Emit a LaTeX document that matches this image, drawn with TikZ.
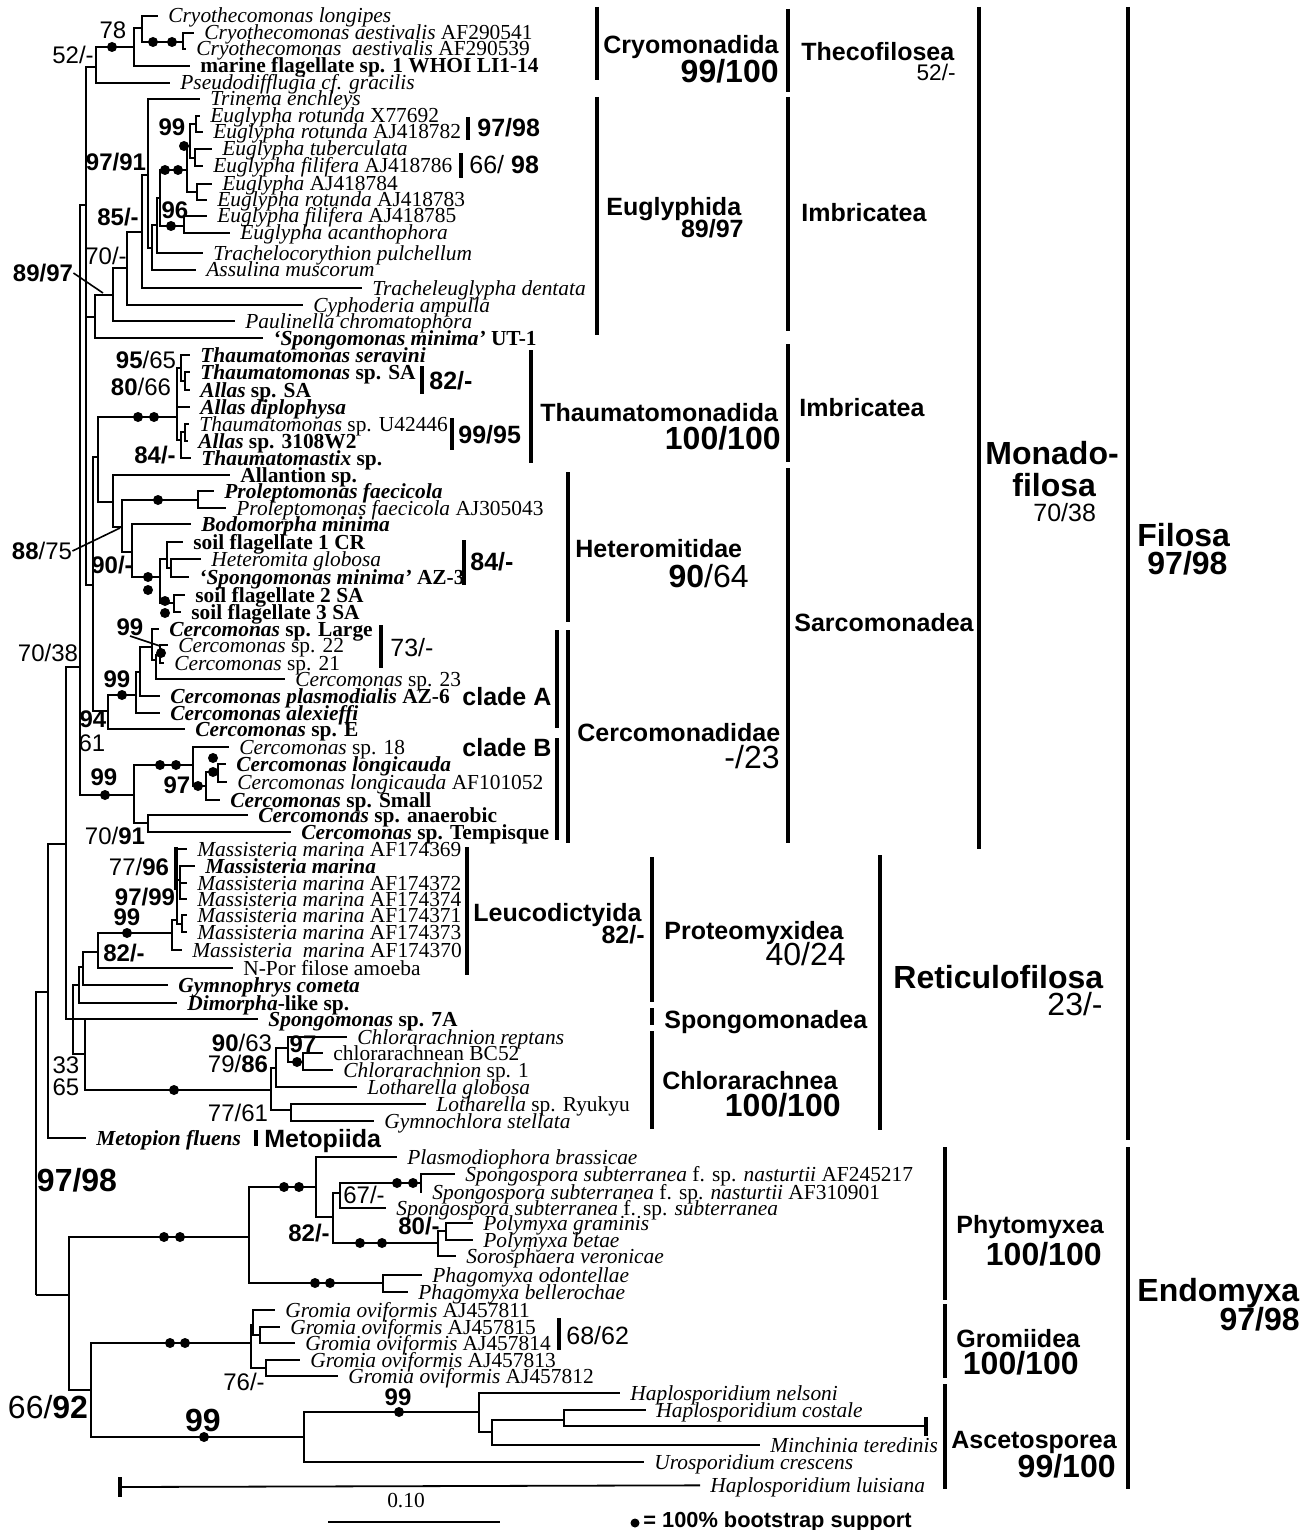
\documentclass[tikz,border=0pt]{standalone}
\usepackage{fontspec}
\setmainfont{Liberation Serif}
\setsansfont{Liberation Sans}
\newcommand\Tx[4]{\node[tx] (#1) at (#2,#3) {#4};}
\newcommand\Ed[2]{\draw[br] (#1) |- (#2);}
\newcommand\Nd[3]{\coordinate (#1) at (#2,#3);}
\newcommand\Dt[3]{\node[dot] (#1) at (#2,#3) {};}
\begin{document}
\begin{tikzpicture}[x=0.5pt,y=-0.5pt,
  br/.style={line width=0.9pt},
  gbar/.style={line width=1.8pt},
  tx/.style={anchor=west,inner xsep=5pt,inner ysep=0pt,text height=7pt,text depth=0pt,font=\fontsize{10.7}{12}\selectfont},
  dot/.style={circle,fill=black,inner sep=0pt,minimum size=5pt},
  sv/.style={inner sep=0pt,text height=8.6pt,text depth=0pt,font=\sffamily\fontsize{12}{12}\selectfont},
  svbig/.style={inner sep=0pt,text height=11.5pt,text depth=0pt,font=\sffamily\fontsize{16}{16}\selectfont},
  svbigb/.style={inner sep=0pt,text height=11.5pt,text depth=0pt,font=\sffamily\bfseries\fontsize{16}{16}\selectfont},
  gname/.style={anchor=west,inner sep=0pt,text height=9pt,text depth=0pt,font=\sffamily\bfseries\fontsize{12.5}{13}\selectfont},
  gsup/.style={inner sep=0pt,text height=9pt,text depth=0pt,font=\sffamily\fontsize{12.5}{13}\selectfont},
  gsupb/.style={inner sep=0pt,text height=9pt,text depth=0pt,font=\sffamily\bfseries\fontsize{12.5}{13}\selectfont},
  gbig/.style={anchor=west,inner sep=0pt,text height=11.5pt,text depth=0pt,font=\sffamily\bfseries\fontsize{16}{16}\selectfont},
]
\fill[white] (0,0) rectangle (1316,1530);
\useasboundingbox (0,0) rectangle (1316,1530);

% ---------- internal nodes ----------
\Nd{root}{36}{1295}
\Nd{F}{48}{992}
\Nd{N7038}{66}{844}
\Nd{M}{80}{667}
\Nd{A}{86}{205}
\Nd{C4}{96}{67}
\Nd{C3}{134}{47}
\Nd{C1}{142}{28}
\Nd{C2}{183}{42}
\Nd{N8997}{95}{317}
\Nd{N98}{113}{295}
\Nd{N70}{127}{268}
\Nd{N85}{142}{232}
\Nd{N9791}{148}{175}
\Nd{E3}{152}{248}
\Nd{E2}{157}{225}
\Nd{E1}{160}{198}
\Nd{EG}{187}{170}
\Nd{E99}{190}{146}
\Nd{Erot}{196}{124}
\Nd{Etub}{195}{158}
\Nd{Ep2}{197}{192}
\Nd{E96}{184}{226}
\Nd{N93}{93}{585}
\Nd{TH}{98}{457}
\Nd{T0}{177}{417}
\Nd{T1}{181}{368}
\Nd{T2}{185}{381}
\Nd{T3}{181}{440}
\Nd{T4}{185}{432}
\Nd{H0}{113}{502}
\Nd{H1}{122}{527}
\Nd{HP}{198}{500}
\Nd{H2}{132}{552}
\Nd{H3}{160}{577}
\Nd{H4}{167}{559}
\Nd{H4b}{171}{568}
\Nd{HS}{174}{603}
\Nd{CA0}{108}{711}
\Nd{CA1}{136}{695}
\Nd{CA1b}{140}{672}
\Nd{CA2}{152}{647}
\Nd{CA3}{156}{660}
\Nd{CAp}{160}{655}
\Nd{CB0}{134}{795}
\Nd{CB1}{193}{765}
\Nd{CB3}{206}{786}
\Nd{CBp}{218}{772}
\Nd{CB2}{148}{823}
\Nd{N33}{73}{1019}
\Nd{ND}{79}{985}
\Nd{NG}{83}{967}
\Nd{NL}{98}{952}
\Nd{MS0}{172}{933}
\Nd{MS1}{177}{920}
\Nd{MS2}{180}{880}
\Nd{MS3}{182}{924}
\Nd{NSC}{85}{1054}
\Nd{CH0}{271}{1090}
\Nd{CHa}{276}{1068}
\Nd{CH1}{288}{1048}
\Nd{CH1b}{303}{1062}
\Nd{CH2}{291}{1110}
\Nd{Endo}{69}{1295}
\Nd{P0}{249}{1237}
\Nd{P1}{316}{1187}
\Nd{P2}{333}{1217}
\Nd{P3}{340}{1193}
\Nd{Psp}{421}{1183}
\Nd{P4}{438}{1243}
\Nd{P5}{446}{1231}
\Nd{Ph}{383}{1283}
\Nd{G}{91}{1390}
\Nd{G0}{251}{1343}
\Nd{G1}{253}{1325}
\Nd{G1b}{260}{1335}
\Nd{G2}{266}{1368}
\Nd{A0}{304}{1437}
\Nd{A1}{479}{1412}
\Nd{A2}{492}{1432}
\Nd{A3}{564}{1420}
\Nd{brk}{926}{1426}
\Nd{lbs}{120}{1487}

% ---------- taxa ----------
\Tx{c1}{158}{16}{\textit{Cryothecomonas longipes}}
\Tx{c2}{194}{33}{\textit{Cryothecomonas aestivalis} AF290541}
\Tx{c3}{186}{49}{\textit{Cryothecomonas\ \ aestivalis} AF290539}
\Tx{c4}{190}{66}{\textbf{marine flagellate sp. 1 WHOI LI1-14}}
\Tx{c5}{170}{83}{\textit{Pseudodifflugia cf. gracilis}}
\Tx{e1}{200}{99}{\textit{Trinema enchleys}}
\Tx{e2}{200}{116}{\textit{Euglypha rotunda} X77692}
\Tx{e3}{203}{132}{\textit{Euglypha rotunda} AJ418782}
\Tx{e4}{212}{149}{\textit{Euglypha tuberculata}}
\Tx{e5}{203}{166}{\textit{Euglypha filifera} AJ418786}
\Tx{e6}{212}{184}{\textit{Euglypha} AJ418784}
\Tx{e7}{207}{200}{\textit{Euglypha rotunda} AJ418783}
\Tx{e8}{207}{216}{\textit{Euglypha filifera} AJ418785}
\Tx{e9}{230}{233}{\textit{Euglypha acanthophora}}
\Tx{e10}{203}{253}{\textit{Trachelocorythion pulchellum}}
\Tx{e11}{196}{270}{\textit{Assulina muscorum}}
\Tx{e12}{362}{288}{\textit{Tracheleuglypha dentata}}
\Tx{e13}{303}{305}{\textit{Cyphoderia ampulla}}
\Tx{e14}{235}{321}{\textit{Paulinella chromatophora}}
\Tx{e15}{263}{338}{\textbf{\textit{‘Spongomonas minima’} UT-1}}
\Tx{th1}{190}{355}{\textbf{\textit{Thaumatomonas seravini}}}
\Tx{th2}{190}{372}{\textbf{\textit{Thaumatomonas} sp. SA}}
\Tx{th3}{190}{390}{\textbf{\textit{Allas} sp. SA}}
\Tx{th4}{190}{407}{\textbf{\textit{Allas diplophysa}}}
\Tx{th5}{189}{424}{\textit{Thaumatomonas} sp. U42446}
\Tx{th6}{188}{441}{\textbf{\textit{Allas} sp. 3108W2}}
\Tx{th7}{191}{458}{\textbf{\textit{Thaumatomastix} sp.}}
\Tx{h1}{230}{475}{\textbf{Allantion sp.}}
\Tx{h2}{214}{491}{\textbf{\textit{Proleptomonas faecicola}}}
\Tx{h3}{226}{508}{\textit{Proleptomonas faecicola} AJ305043}
\Tx{h4}{191}{524}{\textbf{\textit{Bodomorpha minima}}}
\Tx{h5}{183}{542}{\textbf{soil flagellate 1 CR}}
\Tx{h6}{201}{559}{\textit{Heteromita globosa}}
\Tx{h7}{189}{577}{\textbf{\textit{‘Spongomonas minima’} AZ-3}}
\Tx{h8}{185}{595}{\textbf{soil flagellate 2 SA}}
\Tx{h9}{181}{612}{\textbf{soil flagellate 3 SA}}
\Tx{k1}{159}{629}{\textbf{\textit{Cercomonas} sp. Large}}
\Tx{k2}{168}{645}{\textit{Cercomonas} sp. 22}
\Tx{k3}{164}{663}{\textit{Cercomonas} sp. 21}
\Tx{k4}{285}{679}{\textit{Cercomonas} sp. 23}
\Tx{k5}{160}{696}{\textbf{\textit{Cercomonas plasmodialis} AZ-6}}
\Tx{k6}{160}{713}{\textbf{\textit{Cercomonas alexieffi}}}
\Tx{k7}{185}{729}{\textbf{\textit{Cercomonas} sp. E}}
\Tx{k8}{229}{747}{\textit{Cercomonas} sp. 18}
\Tx{k9}{226}{764}{\textbf{\textit{Cercomonas longicauda}}}
\Tx{k10}{227}{782}{\textit{Cercomonas longicauda} AF101052}
\Tx{k11}{220}{800}{\textbf{\textit{Cercomonas} sp. Small}}
\Tx{k12}{248}{815}{\textbf{\textit{Cercomonas} sp. anaerobic}}
\Tx{k13}{291}{832}{\textbf{\textit{Cercomonas} sp. Tempisque}}
\Tx{m1}{187}{849}{\textit{Massisteria marina} AF174369}
\Tx{m2}{195}{866}{\textbf{\textit{Massisteria marina}}}
\Tx{m3}{187}{883}{\textit{Massisteria marina} AF174372}
\Tx{m4}{187}{899}{\textit{Massisteria marina} AF174374}
\Tx{m5}{187}{915}{\textit{Massisteria marina} AF174371}
\Tx{m6}{187}{932}{\textit{Massisteria marina} AF174373}
\Tx{m7}{182}{950}{\textit{Massisteria\ \ marina} AF174370}
\Tx{m8}{233}{968}{N-Por filose amoeba}
\Tx{m9}{168}{985}{\textbf{\textit{Gymnophrys cometa}}}
\Tx{m10}{177}{1003}{\textbf{\textit{Dimorpha}-like sp.}}
\Tx{m11}{258}{1019}{\textbf{\textit{Spongomonas} sp. 7A}}
\Tx{m12}{347}{1037}{\textit{Chlorarachnion reptans}}
\Tx{m13}{323}{1053}{chlorarachnean BC52}
\Tx{m14}{333}{1070}{\textit{Chlorarachnion} sp. 1}
\Tx{m15}{357}{1087}{\textit{Lotharella globosa}}
\Tx{m16}{426}{1104}{\textit{Lotharella} sp. Ryukyu}
\Tx{m17}{374}{1121}{\textit{Gymnochlora stellata}}
\Tx{m18}{86}{1138}{\textbf{\textit{Metopion fluens}}}
\Tx{p1}{397}{1157}{\textit{Plasmodiophora brassicae}}
\Tx{p2}{455}{1174}{\textit{Spongospora subterranea} f. sp. \textit{nasturtii} AF245217}
\Tx{p3}{422}{1192}{\textit{Spongospora subterranea} f. sp. \textit{nasturtii} AF310901}
\Tx{p4}{386}{1208}{\textit{Spongospora subterranea} f. sp. \textit{subterranea}}
\Tx{p5}{473}{1223}{\textit{Polymyxa graminis}}
\Tx{p6}{473}{1240}{\textit{Polymyxa betae}}
\Tx{p7}{456}{1256}{\textit{Sorosphaera veronicae}}
\Tx{p8}{422}{1275}{\textit{Phagomyxa odontellae}}
\Tx{p9}{408}{1292}{\textit{Phagomyxa bellerochae}}
\Tx{g1}{275}{1310}{\textit{Gromia oviformis} AJ457811}
\Tx{g2}{280}{1327}{\textit{Gromia oviformis} AJ457815}
\Tx{g3}{295}{1343}{\textit{Gromia oviformis} AJ457814}
\Tx{g4}{300}{1360}{\textit{Gromia oviformis} AJ457813}
\Tx{g5}{338}{1376}{\textit{Gromia oviformis} AJ457812}
\Tx{a1}{620}{1393}{\textit{Haplosporidium nelsoni}}
\Tx{a2}{646}{1410}{\textit{Haplosporidium costale}}
\Tx{a3}{760}{1445}{\textit{Minchinia teredinis}}
\Tx{a4}{644}{1462}{\textit{Urosporidium crescens}}
\Tx{a5}{700}{1485}{\textit{Haplosporidium luisiana}}

% ---------- edges ----------
\Ed{root}{F}\Ed{root}{Endo}
\Ed{F}{N7038}\Ed{F}{m18}
\Ed{N7038}{M}\Ed{N7038}{N33}
\Ed{M}{A}\Ed{M}{CB0}
\Ed{A}{C4}\Ed{A}{N8997}\Ed{A}{N93}
\Ed{C4}{C3}\Ed{C4}{c5}
\Ed{C3}{C1}\Ed{C3}{c4}
\Ed{C1}{c1}\Ed{C1}{C2}
\Ed{C2}{c2}\Ed{C2}{c3}
\Ed{N8997}{N98}\Ed{N8997}{e15}
\Ed{N98}{N70}\Ed{N98}{e14}
\Ed{N70}{N85}\Ed{N70}{e13}
\Ed{N85}{N9791}\Ed{N85}{e12}
\Ed{N9791}{e1}\Ed{N9791}{E3}
\Ed{E3}{E2}\Ed{E3}{e11}
\Ed{E2}{E1}\Ed{E2}{e10}
\Ed{E1}{EG}\Ed{E1}{E96}
\Ed{EG}{E99}\Ed{EG}{Ep2}
\Ed{E99}{Erot}\Ed{E99}{Etub}
\Ed{Erot}{e2}\Ed{Erot}{e3}
\Ed{Etub}{e4}\Ed{Etub}{e5}
\Ed{Ep2}{e6}\Ed{Ep2}{e7}
\Ed{E96}{e8}\Ed{E96}{e9}
\Ed{N93}{TH}\Ed{N93}{CA0}
\Ed{TH}{T0}\Ed{TH}{H0}
\Ed{T0}{T1}\Ed{T0}{th4}\Ed{T0}{T3}
\Ed{T1}{th1}\Ed{T1}{T2}
\Ed{T2}{th2}\Ed{T2}{th3}
\Ed{T3}{T4}\Ed{T3}{th7}
\Ed{T4}{th5}\Ed{T4}{th6}
\Ed{H0}{h1}\Ed{H0}{H1}
\Ed{H1}{HP}\Ed{H1}{H2}
\Ed{HP}{h2}\Ed{HP}{h3}
\Ed{H2}{h4}\Ed{H2}{H3}
\Ed{H3}{H4}\Ed{H3}{HS}
\Ed{H4}{h5}\Ed{H4}{H4b}
\Ed{H4b}{h6}\Ed{H4b}{h7}
\Ed{HS}{h8}\Ed{HS}{h9}
\Ed{CA0}{CA1}\Ed{CA0}{k7}
\Ed{CA1}{CA1b}\Ed{CA1}{k6}
\Ed{CA1b}{CA2}\Ed{CA1b}{k5}
\Ed{CA2}{k1}\Ed{CA2}{CA3}
\Ed{CA3}{CAp}\Ed{CA3}{k4}
\Ed{CAp}{k2}\Ed{CAp}{k3}
\Ed{CB0}{CB1}\Ed{CB0}{CB2}
\Ed{CB1}{k8}\Ed{CB1}{CB3}
\Ed{CB3}{CBp}\Ed{CB3}{k11}
\Ed{CBp}{k9}\Ed{CBp}{k10}
\Ed{CB2}{k12}\Ed{CB2}{k13}
\Ed{N33}{ND}\Ed{N33}{m11}\Ed{N33}{NSC}
\Ed{ND}{NG}\Ed{ND}{m10}
\Ed{NG}{NL}\Ed{NG}{m9}
\Ed{NL}{MS0}\Ed{NL}{m8}
\Ed{MS0}{MS1}\Ed{MS0}{m7}
\Ed{MS1}{m1}\Ed{MS1}{MS2}\Ed{MS1}{MS3}
\Ed{MS2}{m2}\Ed{MS2}{m3}\Ed{MS2}{m4}
\Ed{MS3}{m5}\Ed{MS3}{m6}
\Ed{NSC}{m11}\Ed{NSC}{CH0}
\Ed{CH0}{CHa}\Ed{CH0}{CH2}
\Ed{CHa}{CH1}\Ed{CHa}{m15}
\Ed{CH1}{m12}\Ed{CH1}{CH1b}
\Ed{CH1b}{m13}\Ed{CH1b}{m14}
\Ed{CH2}{m16}\Ed{CH2}{m17}
\Ed{Endo}{P0}\Ed{Endo}{G}
\Ed{P0}{P1}\Ed{P0}{Ph}
\Ed{P1}{p1}\Ed{P1}{P2}
\Ed{P2}{P3}\Ed{P2}{P4}
\Ed{P3}{Psp}\Ed{P3}{p4}
\Ed{Psp}{p2}\Ed{Psp}{p3}
\Ed{P4}{P5}\Ed{P4}{p7}
\Ed{P5}{p5}\Ed{P5}{p6}
\Ed{Ph}{p8}\Ed{Ph}{p9}
\Ed{G}{G0}\Ed{G}{A0}
\Ed{G0}{G1}\Ed{G0}{G2}
\Ed{G1}{g1}\Ed{G1}{G1b}
\Ed{G1b}{g2}\Ed{G1b}{g3}
\Ed{G2}{g4}\Ed{G2}{g5}
\Ed{A0}{A1}\Ed{A0}{a4}
\Ed{A1}{a1}\Ed{A1}{A2}
\Ed{A2}{A3}\Ed{A2}{a3}
\Ed{A3}{a2}\Ed{A3}{brk}
\draw[br] (lbs) -- (a5);
\draw[gbar] (926,1417) -- (926,1436);
\draw[gbar] (120,1477) -- (120,1497);
\draw[line width=1.6pt] (176,847) -- (176,890);

% ---------- dots ----------
\Dt{d1}{112}{47}\Dt{d2}{153}{42}\Dt{d3}{172}{42}
\Dt{d4}{165}{170}\Dt{d5}{178}{170}\Dt{d6}{184}{146}\Dt{d7}{171}{226}
\Dt{d8}{138}{417}\Dt{d9}{154}{417}
\Dt{d10}{158}{500}\Dt{d11}{148}{577}\Dt{d12}{148}{590}\Dt{d13}{165}{601}\Dt{d14}{165}{613}
\Dt{d15}{161}{653}\Dt{d16}{122}{695}\Dt{d17}{105}{795}\Dt{d18}{160}{765}\Dt{d19}{176}{765}
\Dt{d20}{198}{786}\Dt{d21}{213}{758}\Dt{d22}{213}{772}
\Dt{d23}{127}{933}\Dt{d24}{174}{1090}\Dt{d25}{297}{1062}
\Dt{d26}{164}{1237}\Dt{d27}{180}{1237}\Dt{d28}{284}{1187}\Dt{d29}{299}{1187}
\Dt{d30}{397}{1183}\Dt{d31}{413}{1183}\Dt{d32}{360}{1243}\Dt{d33}{382}{1243}
\Dt{d34}{315}{1283}\Dt{d35}{330}{1283}\Dt{d36}{170}{1343}\Dt{d37}{185}{1343}
\Dt{d38}{204}{1437}\Dt{d39}{399}{1412}

% ---------- tree support values ----------
\node[sv] (s1) at (73,55) {52/-};
\node[sv] (s2) at (113,30) {78};
\node[sv] (s3) at (116,162) {\textbf{97/91}};
\node[sv] (s4) at (118,217) {\textbf{85/-}};
\node[sv] (s5) at (106,256) {70/-};
\node[sv] (s6) at (43,273) {\textbf{89/97}};
\node[sv] (s7) at (172,127) {\textbf{99}};
\node[sv] (s8) at (175,210) {\textbf{96}};
\node[sv] (s9) at (146,360) {\textbf{95}/65};
\node[sv] (s10) at (141,387) {\textbf{80}/66};
\node[sv] (s11) at (155,455) {\textbf{84/-}};
\node[sv] (s12) at (42,551) {\textbf{88}/75};
\node[sv] (s13) at (112,565) {\textbf{90/-}};
\node[sv] (s14) at (130,627) {\textbf{99}};
\node[sv] (s15) at (117,679) {\textbf{99}};
\node[sv] (s16) at (93,719) {\textbf{94}};
\node[sv] (s17) at (92,743) {61};
\node[sv] (s18) at (48,653) {70/38};
\node[sv] (s19) at (104,777) {\textbf{99}};
\node[sv] (s20) at (177,785) {\textbf{97}};
\node[sv] (s21) at (115,836) {70/\textbf{91}};
\node[sv] (s22) at (139,867) {77/\textbf{96}};
\node[sv] (s23) at (145,897) {\textbf{97/99}};
\node[sv] (s24) at (127,917) {\textbf{99}};
\node[sv] (s25) at (124,953) {\textbf{82/-}};
\node[sv] (s26) at (66,1065) {33};
\node[sv] (s27) at (66,1087) {65};
\node[sv] (s28) at (242,1043) {\textbf{90}/63};
\node[sv] (s29) at (238,1064) {79/\textbf{86}};
\node[sv] (s30) at (303,1044) {\textbf{97}};
\node[sv] (s31) at (238,1113) {77/61};
\node[svbigb] (s32) at (77,1180) {97/98};
\node[svbig] (s33) at (48,1407) {66/\textbf{92}};
\node[svbigb] (s34) at (203,1420) {99};
\node[sv] (s35) at (364,1195) {67/-};
\node[sv] (s36) at (309,1233) {\textbf{82/-}};
\node[sv] (s37) at (419,1226) {\textbf{80/-}};
\node[sv] (s38) at (244,1382) {76/-};
\node[sv] (s39) at (398,1397) {\textbf{99}};
\coordinate (q1) at (103,293);
\coordinate (q2) at (120,528);
\coordinate (q3) at (160,646);
\draw[line width=0.8pt] (s6.east) -- (q1);
\draw[line width=0.8pt] (s12.east) -- (q2);
\draw[line width=0.8pt] (s14.south) -- (q3);

% ---------- small bars ----------
\draw[gbar] (468,117) -- (468,140);
\draw[gbar] (461,153) -- (461,178);
\draw[gbar] (422,366) -- (422,394);
\draw[gbar] (452,418) -- (452,450);
\draw[gbar] (464,540) -- (464,585);
\draw[gbar] (381,625) -- (381,668);
\draw[gbar] (559,1318) -- (559,1350);
\node[gsupb,anchor=west] (b1) at (477,128) {97/98};
\node[gsup,anchor=west] (b2) at (469,165) {66/ \textbf{98}};
\node[gsupb,anchor=west] (b3) at (429,380) {82/-};
\node[gsupb,anchor=west] (b4) at (458,434) {99/95};
\node[gsupb,anchor=west] (b5) at (470,561) {84/-};
\node[gsup,anchor=west] (b6) at (390,647) {73/-};
\node[gsup,anchor=west] (b7) at (566,1335) {68/62};

% ---------- group bars ----------
\draw[gbar] (597,7) -- (597,80);
\draw[gbar] (597,97) -- (597,335);
\draw[gbar] (788,9) -- (788,92);
\draw[gbar] (788,97) -- (788,331);
\draw[gbar] (788,344) -- (788,462);
\draw[gbar] (788,468) -- (788,843);
\draw[gbar] (979,7) -- (979,849);
\draw[gbar] (1128,7) -- (1128,1140);
\draw[gbar] (531,350) -- (531,463);
\draw[gbar] (568,472) -- (568,622);
\draw[gbar] (568,630) -- (568,843);
\draw[gbar] (557,630) -- (557,728);
\draw[gbar] (557,738) -- (557,840);
\draw[gbar] (467,847) -- (467,975);
\draw[gbar] (652,857) -- (652,1002);
\draw[gbar] (652,1008) -- (652,1025);
\draw[gbar] (652,1031) -- (652,1129);
\draw[gbar] (880,855) -- (880,1130);
\draw[gbar] (945,1147) -- (945,1300);
\draw[gbar] (945,1304) -- (945,1378);
\draw[gbar] (945,1384) -- (945,1489);
\draw[gbar] (1128,1147) -- (1128,1489);
\draw[gbar] (256,1130) -- (256,1146);

% ---------- group labels ----------
\node[gname] (gCryo) at (603,45) {Cryomonadida};
\node[svbigb,anchor=east] (gCryoS) at (779,71) {99/100};
\node[gname] (gTheco) at (801,52) {Thecofilosea};
\node[gsup,anchor=east,font=\sffamily\fontsize{11.3}{12}\selectfont] (gThecoS) at (956,72) {52/-};
\node[gname] (gEug) at (606,207) {Euglyphida};
\node[gsupb,anchor=east] (gEugS) at (744,229) {89/97};
\node[gname] (gImb1) at (801,212) {Imbricatea};
\node[gname] (gImb2) at (799,407) {Imbricatea};
\node[gname] (gThau) at (540,412) {Thaumatomonadida};
\node[svbigb,anchor=east] (gThauS) at (781,438) {100/100};
\node[gname] (gHet) at (575,548) {Heteromitidae};
\node[svbig,anchor=east] (gHetS) at (749,576) {\textbf{90}/64};
\node[gname] (gCer) at (577,732) {Cercomonadidae};
\node[svbig,anchor=east] (gCerS) at (780,757) {-/23};
\node[gname] (gcA) at (462,696) {clade A};
\node[gname] (gcB) at (462,747) {clade B};
\node[gname] (gSarc) at (794,622) {Sarcomonadea};
\node[gbig] (gMon1) at (985,453) {Monado-};
\node[gbig] (gMon2) at (1012,485) {filosa};
\node[gsup,anchor=west] (gMonS) at (1033,512) {70/38};
\node[gbig] (gFil) at (1137,535) {Filosa};
\node[gbig] (gFilS) at (1147,563) {97/98};
\node[gname] (gLeu) at (473,912) {Leucodictyida};
\node[gsupb,anchor=east] (gLeuS) at (645,934) {82/-};
\node[gname] (gPro) at (664,930) {Proteomyxidea};
\node[svbig,anchor=east] (gProS) at (846,954) {40/24};
\node[gname] (gSpo) at (664,1019) {Spongomonadea};
\node[gname] (gChl) at (662,1080) {Chlorarachnea};
\node[svbigb,anchor=east] (gChlS) at (841,1105) {100/100};
\node[gbig] (gRet) at (893,977) {Reticulofilosa};
\node[svbig,anchor=east] (gRetS) at (1103,1004) {23/-};
\node[gname] (gMet) at (264,1138) {Metopiida};
\node[gname] (gPhy) at (956,1224) {Phytomyxea};
\node[svbigb,anchor=east] (gPhyS) at (1102,1254) {100/100};
\node[gname] (gGro) at (956,1338) {Gromiidea};
\node[svbigb,anchor=east] (gGroS) at (1079,1363) {100/100};
\node[gname] (gAsc) at (951,1439) {Ascetosporea};
\node[svbigb,anchor=east] (gAscS) at (1116,1466) {99/100};
\node[gbig] (gEnd) at (1137,1290) {Endomyxa};
\node[svbigb,anchor=east] (gEndS) at (1300,1319) {97/98};

% ---------- scale bar and legend ----------
\coordinate (sb1) at (328,1522);
\coordinate (sb2) at (500,1522);
\draw[br] (sb1) -- (sb2);
\node[inner sep=0pt,text height=7pt,text depth=0pt,font=\fontsize{10.7}{12}\selectfont] (sbl) at (406,1500) {0.10};
\node[dot,minimum size=4.5pt] (leg) at (635,1523) {};
\node[anchor=west,inner sep=0pt,text height=7.8pt,text depth=0pt,font=\sffamily\bfseries\fontsize{10.9}{12}\selectfont] (legt) at (643,1520) {= 100\% bootstrap support};
\end{tikzpicture}
\end{document}
